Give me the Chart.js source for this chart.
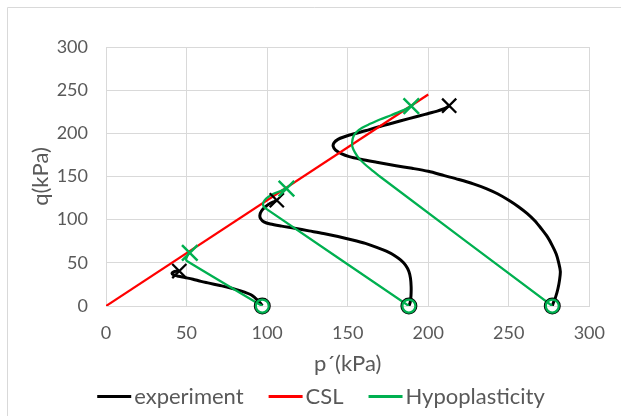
<!DOCTYPE html>
<html><head><meta charset="utf-8">
<script src="https://cdn.jsdelivr.net/npm/chart.js@4/dist/chart.umd.min.js"></script>
<style>html,body{margin:0;padding:0;background:#fff}#wrap{width:621px;height:416px;position:relative}</style>
</head><body><div id="wrap"><canvas id="c" width="621" height="416"></canvas></div>
<script>
// ---- data ----
const axisTicks = [0, 50, 100, 150, 200, 250, 300];
const xTitle = "p´(kPa)";
const yTitle = "q(kPa)";
const legendNames = ["experiment", "CSL", "Hypoplasticity"];

const cslP = [0, 200];
const cslQ = [0, 245];

const exp1P = [97, 96, 94.5, 92.5, 90, 86, 81, 75, 70, 64, 59, 54, 49, 45, 42, 41, 42.5, 45.5];
const exp1Q = [0.5, 3, 6, 9.5, 13, 16, 19, 22, 24, 26.5, 28.5, 31, 33, 34.5, 36, 38, 40, 40.5];

const exp2P = [188, 188.8, 189.3, 189.4, 189, 188, 186, 183, 179, 174, 168, 161, 153, 144, 135, 126, 117, 109, 102, 98, 96, 95.5, 96.5, 99, 102, 104.5, 106];
const exp2Q = [0, 4, 12, 22, 32, 40, 47, 53, 58.5, 63.5, 68, 72.5, 76.5, 80.5, 84, 87, 90, 92.5, 95, 97.5, 101, 105, 110, 115, 119, 121, 122.5];

const exp3P = [277, 277.5, 279, 280.5, 281.5, 282, 281, 279.5, 277, 274, 270, 266, 261.5, 256, 250, 243, 236, 228, 219, 210, 200, 190, 180, 168, 158, 151, 146, 142.5, 141, 141.5, 144, 148, 154, 161, 169, 178, 188, 198, 206, 210, 213];
const exp3Q = [0, 3, 10, 20, 30, 40, 50, 60, 70, 80, 90, 99, 107, 115, 122.5, 130, 136, 141.5, 146.5, 151, 156, 159.5, 162.5, 166.5, 170, 173, 176.5, 180.5, 185, 189, 193, 196, 199.5, 203, 207.5, 212, 217, 222, 226, 228.5, 232];

const hypo1P = [97, 50, 49.8, 50.5, 51.5];
const hypo1Q = [0, 52.5, 55, 58, 61.5];
const hypo2P = [188, 99.5, 97.8, 97.5, 98.3, 100.5, 104, 108, 112];
const hypo2Q = [0, 112.5, 115.5, 118.5, 122, 126, 130, 133, 136];
const hypo3P = [277, 170, 165, 160.5, 157, 154.5, 153, 152.8, 153.5, 155.5, 159, 164, 170, 177, 183.5, 189.5];
const hypo3Q = [0, 150, 157.5, 164.5, 171, 178, 184, 190, 196, 201.5, 206.5, 211, 216, 221, 226, 231.5];

const startP = [97, 188, 277];
const startQ = [0, 0, 0];
const expEndP = [45.5, 106, 213];
const expEndQ = [40.5, 122.5, 232];
const hypoEndP = [52, 112, 189.5];
const hypoEndQ = [61.5, 136, 231.5];

// ---- styles ----
const BLACK = '#000000', RED = '#ff0000', GREEN = '#00b050';
const TEXT = '#595959', GRID = '#d9d9d9';
const FONT = 'Lato';

const pts = (P, Q) => P.map((p, i) => ({x: p, y: Q[i]}));
const lineDs = (P, Q, color, w, order, tension) => ({
  data: pts(P, Q), showLine: true, borderColor: color, borderWidth: w,
  pointRadius: 0, tension: tension, order: order, fill: false
});
const markDs = (P, Q, color, style, r, w, order) => ({
  data: pts(P, Q), showLine: false, pointStyle: style, pointRadius: r,
  pointBorderWidth: w, borderColor: color, pointBorderColor: color,
  backgroundColor: 'rgba(0,0,0,0)', pointBackgroundColor: 'rgba(0,0,0,0)', order: order,
  clip: false
});

const frame = {
  id: 'frame',
  beforeDraw(chart) {
    const ctx = chart.ctx;
    ctx.save();
    ctx.strokeStyle = GRID; ctx.lineWidth = 1;
    ctx.beginPath(); ctx.moveTo(7.5, 416); ctx.lineTo(7.5, 7.5); ctx.lineTo(621, 7.5); ctx.stroke();
    ctx.restore();
  }
};

const legendPlugin = {
  id: 'customLegend',
  afterDraw(chart) {
    const ctx = chart.ctx;
    const colors = [BLACK, RED, GREEN];
    ctx.save();
    ctx.font = '22px ' + FONT;
    ctx.textBaseline = 'middle';
    ctx.textAlign = 'left';
    const lineLen = 34, gapText = 3, gapItem = 25;
    const widths = legendNames.map(n => ctx.measureText(n).width);
    let total = 0;
    widths.forEach((w, i) => { total += lineLen + gapText + w + (i < widths.length - 1 ? gapItem : 0); });
    let x = 321 - total / 2;
    const y = 396.5;
    legendNames.forEach((n, i) => {
      ctx.strokeStyle = colors[i]; ctx.lineWidth = 3;
      ctx.beginPath(); ctx.moveTo(x, y); ctx.lineTo(x + lineLen, y); ctx.stroke();
      x += lineLen + gapText;
      ctx.fillStyle = TEXT;
      ctx.fillText(n, x, y);
      x += widths[i] + gapItem;
    });
    ctx.restore();
  }
};

new Chart(document.getElementById('c'), {
  type: 'scatter',
  data: {
    datasets: [
      lineDs(exp1P, exp1Q, BLACK, 3, 4, 0.3),
      lineDs(exp2P, exp2Q, BLACK, 3, 4, 0.3),
      lineDs(exp3P, exp3Q, BLACK, 3, 4, 0.3),
      lineDs(cslP, cslQ, RED, 2.25, 3, 0),
      lineDs(hypo1P, hypo1Q, GREEN, 2.25, 2, 0.2),
      lineDs(hypo2P, hypo2Q, GREEN, 2.25, 2, 0.3),
      lineDs(hypo3P, hypo3Q, GREEN, 2.25, 2, 0.3),
      markDs(startP, startQ, BLACK, 'circle', 7.5, 2, 1),
      markDs(startP, startQ, GREEN, 'circle', 6.5, 2.25, 0),
      markDs(expEndP, expEndQ, BLACK, 'crossRot', 10, 2.25, 1),
      markDs(hypoEndP, hypoEndQ, GREEN, 'crossRot', 11, 2.5, 0)
    ]
  },
  options: {
    responsive: false,
    animation: false,
    devicePixelRatio: 1,
    layout: {padding: {left: 0, right: 25, top: 47, bottom: 0}},
    plugins: {legend: {display: false}, tooltip: {enabled: false}},
    scales: {
      x: {
        type: 'linear', min: 0, max: 300,
        afterBuildTicks: s => { s.ticks = axisTicks.map(v => ({value: v})); },
        afterFit: s => { s.height = 110; },
        grid: {color: GRID, lineWidth: 1, drawTicks: false},
        border: {color: GRID, width: 1},
        ticks: {color: TEXT, font: {family: FONT, size: 18}, padding: 16, maxRotation: 0},
        title: {display: true, text: xTitle, color: TEXT, font: {family: FONT, size: 22}, padding: {top: 0, bottom: 39}}
      },
      y: {
        type: 'linear', min: 0, max: 300,
        afterBuildTicks: s => { s.ticks = axisTicks.map(v => ({value: v})); },
        afterFit: s => { s.width = 106; },
        grid: {color: GRID, lineWidth: 1, drawTicks: false},
        border: {color: GRID, width: 1},
        ticks: {color: TEXT, font: {family: FONT, size: 18}, padding: 18},
        title: {display: true, text: yTitle, color: TEXT, font: {family: FONT, size: 22}, padding: {top: 28, bottom: 0}}
      }
    }
  },
  plugins: [frame, legendPlugin]
});
</script>
</body></html>
